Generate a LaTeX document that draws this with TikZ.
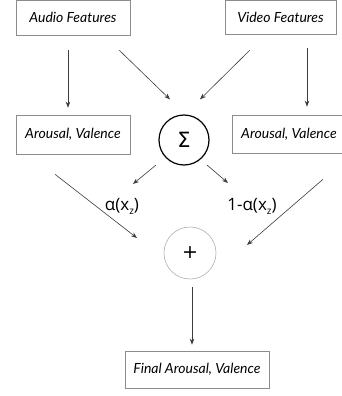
\documentclass[tikz,border=0pt]{standalone}
\usepackage{amsmath}
\usepackage{xcolor}
\usepackage{fontspec}
\setmainfont{Open Sans}
\newfontfamily\boxfont{Lato}
\newfontfamily\opfont{DejaVu Sans}
\usepackage{tikz}
\usetikzlibrary{calc,arrows.meta}

\definecolor{boxgray}{RGB}{140,140,140}
\definecolor{arrowgray}{RGB}{60,60,60}
\newcommand{\subz}{\raisebox{-0.45ex}{\fontsize{10}{10}\selectfont z}}

\begin{document}
\begin{tikzpicture}[x=1pt,y=-1pt,
		box/.style={draw=boxgray,line width=0.6pt,inner sep=0pt,font=\boxfont\itshape\fontsize{14}{16}\selectfont},
		arr/.style={draw=arrowgray,line width=0.6pt,-{Stealth[length=6pt,width=4.5pt]}},
		opcircle/.style={circle,inner sep=0pt}]
		\useasboundingbox (0,0) rectangle (341,396);
		% Draw boxes
		\node[box,minimum width=114pt,minimum height=35pt] (audio) at (73,17.5) {Audio Features};
		\node[box,minimum width=111pt,minimum height=34pt] (video) at (280.5,17) {Video Features};
		\node[box,minimum width=114pt,minimum height=39pt] (avleft) at (73,134.5) {Arousal, Valence};
		\node[box,minimum width=114pt,minimum height=38pt] (avright) at (289,134) {Arousal, Valence};
		\node[box,minimum width=144pt,minimum height=37pt] (final) at (197,369.5) {Final Arousal, Valence};
		% Draw operators
		\node[opcircle,draw=black,line width=1.2pt,minimum size=50pt,font=\opfont\fontsize{21}{22}\selectfont] (sum) at (184,140) {Σ};
		\node[opcircle,draw=boxgray!70,line width=0.6pt,minimum size=52pt,font=\opfont\fontsize{19}{20}\selectfont] (plus) at (190,253) {+};
		% Draw weights
		\node[font=\fontsize{17}{18}\selectfont] (alphaL) at (122,206) {α(x\subz)};
		\node[font=\fontsize{17}{18}\selectfont] (alphaR) at (252,206) {1-α(x\subz)};
		% Draw arrows
		\draw[arr] ($(audio.south)+(-5,15)$) -- ($(avleft.north)+(-5,-7)$);
		\draw[arr] ($(audio.south east)+(-11,15)$) -- ($(sum.north)+(-14,-15)$);
		\draw[arr] ($(video.south west)+(25,16)$) -- ($(sum.north)+(16,-15)$);
		\draw[arr] ($(video.south)+(26.5,14)$) -- ($(avright.north)+(18,-8)$);
		\draw[arr] ($(sum)+(-28,25)$) -- ($(alphaL)+(11,-22)$);
		\draw[arr] ($(sum)+(23,25)$) -- ($(alphaR)+(-24,-23)$);
		\draw[arr] ($(avleft.south)+(-18,20)$) -- ($(plus)+(-53,-15)$);
		\draw[arr] ($(avright.south)+(34,26)$) -- ($(plus)+(57,-8)$);
		\draw[arr] ($(plus.south)+(2,8)$) -- ($(final.north)+(-5,-6)$);
	\end{tikzpicture}
\end{document}
